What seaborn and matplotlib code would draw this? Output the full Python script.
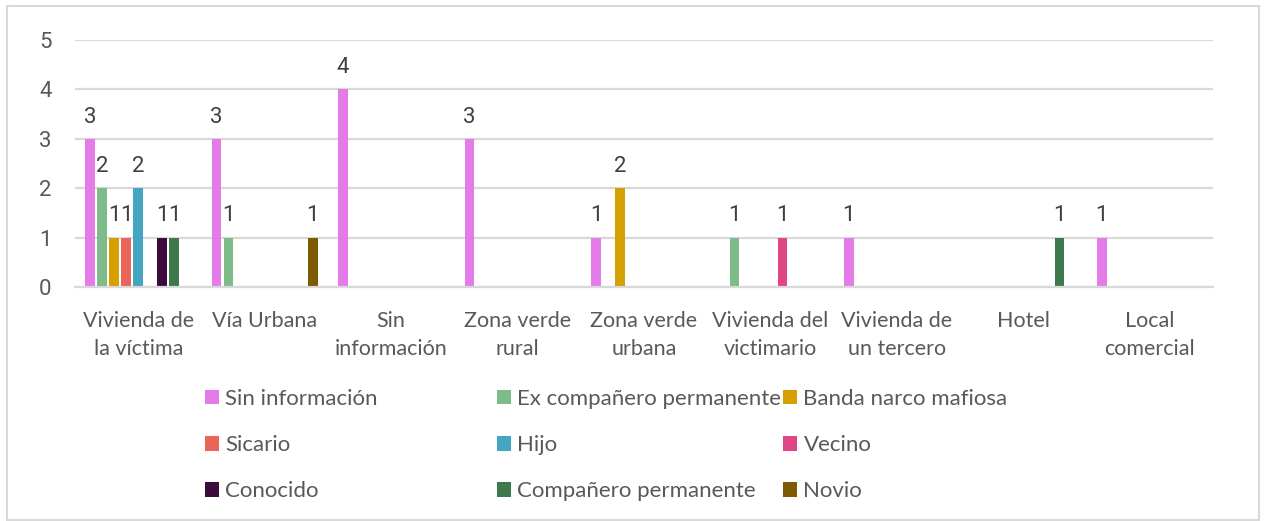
"""Lugar del hecho vs. agresor: barras agrupadas con etiquetas y leyenda en 3 columnas."""
import matplotlib
matplotlib.use("Agg")
import matplotlib.pyplot as plt
from matplotlib.patches import Patch, Rectangle
import numpy as np
import pandas as pd
import seaborn as sns

lugares = [
    "Vivienda de\nla víctima", "Vía Urbana", "Sin\ninformación",
    "Zona verde\nrural", "Zona verde\nurbana", "Vivienda del\nvictimario",
    "Vivienda de\nun tercero", "Hotel", "Local\ncomercial",
]
agresores = [
    "Sin información", "Ex compañero permanente", "Banda narco mafiosa",
    "Sicario", "Hijo", "Vecino", "Conocido", "Compañero permanente", "Novio",
]
colores = [
    "#E57BE9", "#7DBB89", "#D4A000", "#EA6459", "#45A6C2",
    "#E04585", "#3D0A3E", "#3C7A4B", "#7E5A00",
]

N = None
sin_informacion = [3, 3, 4, 3, 1, N, 1, N, 1]
ex_companero = [2, 1, N, N, N, 1, N, N, N]
banda_narco = [1, N, N, N, 2, N, N, N, N]
sicario = [1, N, N, N, N, N, N, N, N]
hijo = [2, N, N, N, N, N, N, N, N]
vecino = [N, N, N, N, N, 1, N, N, N]
conocido = [1, N, N, N, N, N, N, N, N]
companero = [1, N, N, N, N, N, N, 1, N]
novio = [N, 1, N, N, N, N, N, N, N]

series = [sin_informacion, ex_companero, banda_narco, sicario, hijo,
          vecino, conocido, companero, novio]

wide = pd.DataFrame(dict(zip(agresores, series)), index=lugares, dtype=float)
df = (wide.reset_index(names="lugar")
      .melt(id_vars="lugar", var_name="agresor", value_name="casos")
      .dropna())

TXT = "#595959"
GRID = "#D9D9D9"
NUM_FONT = ["Roboto", "DejaVu Sans"]
W, H = 1265, 521

sns.set_theme(style="white")
plt.rcParams["font.family"] = ["Lato", "DejaVu Sans"]

fig = plt.figure(figsize=(W / 100, H / 100), dpi=100)
ax = fig.add_axes([75 / W, 1 - 287 / H, (1213 - 75) / W, (287 - 40) / H])

sns.barplot(
    data=df, x="lugar", y="casos", hue="agresor",
    order=lugares, hue_order=agresores, palette=colores,
    width=0.855, gap=0.2, errorbar=None, saturation=1,
    linewidth=0, legend=False, ax=ax,
)

for cont in ax.containers:
    ax.bar_label(cont, fmt="%g", padding=8, fontsize=16, color="#404040",
                 family=NUM_FONT)

ax.set_ylim(0, 5)
ax.set_xlim(-0.5, len(lugares) - 0.5)
ax.set_yticks(range(6))
ax.yaxis.grid(True, color=GRID, linewidth=1.6)
ax.set_axisbelow(True)
for s in ["top", "right", "left"]:
    ax.spines[s].set_visible(False)
ax.spines["bottom"].set_color(GRID)
ax.spines["bottom"].set_linewidth(1.6)
ax.set_xlabel("")
ax.set_ylabel("")

ax.tick_params(axis="y", length=0, pad=17, labelsize=16, labelcolor=TXT)
for t in ax.get_yticklabels():
    t.set_fontfamily(NUM_FONT)
ax.tick_params(axis="x", length=0, pad=17, labelsize=15.5, labelcolor=TXT)
for t in ax.get_xticklabels():
    t.set_linespacing(1.5)

# leyenda: Excel la reparte por filas, tres columnas con anchos propios
columnas_x = [205, 497, 783]
for c, x0 in enumerate(columnas_x):
    idx = [c, c + 3, c + 6]
    handles = [Patch(facecolor=colores[i], edgecolor="none") for i in idx]
    labels = [agresores[i] for i in idx]
    fig.legend(
        handles, labels, loc="upper left",
        bbox_to_anchor=(x0 / W, 1 - 389 / H),
        frameon=False, borderpad=0, borderaxespad=0,
        handlelength=0.62, handleheight=0.62, handletextpad=0.3,
        labelspacing=1.18, fontsize=16, labelcolor=TXT,
    )

fig.patches.append(Rectangle(
    (7 / W, 1 / H), (1259 - 7) / W, (520 - 6) / H,
    transform=fig.transFigure, fill=False, edgecolor=GRID, linewidth=1.5,
))

fig.savefig("out.png", dpi=100, facecolor="white")
